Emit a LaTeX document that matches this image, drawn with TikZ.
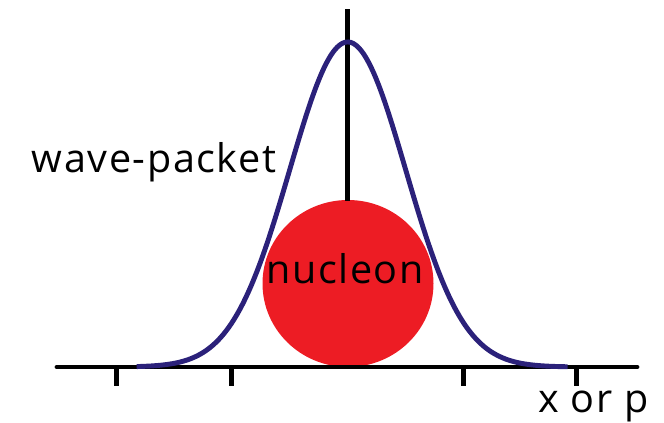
\documentclass[tikz,border=0pt]{standalone}
\usepackage{fontspec}
\setmainfont{Open Sans}[LetterSpace=4]
\usetikzlibrary{positioning,calc}
\definecolor{packet-blue}{RGB}{43,33,122}
\definecolor{nucleon-red}{RGB}{237,28,36}

\begin{document}
\begin{tikzpicture}[
 x=0.02cm, y=-0.02cm,
 axisline/.style={black, line width=2.8pt, line cap=round},
 tick/.style={black, line width=2.6pt},
 lbl/.style={inner sep=0, anchor=base west, font=\fontsize{22.5}{26}\selectfont},
 packet/.style={packet-blue, line width=2.8pt},
]
 \useasboundingbox (0,0) rectangle (664,423);
 %
 \coordinate (axL) at (57,367);
 \coordinate (axR) at (637,367);
 \coordinate (top) at (347.7,9);
 \coordinate (mid) at (347.7,201);
 %
 \fill[nucleon-red] (348,283.5) ellipse (85.5 and 83.5);
 \node[lbl, anchor=base] (nuc) at (345,283) {nucleon};
 %
 \draw[axisline] (axL) -- (axR);
 \draw[axisline, line cap=butt] (top) -- (mid);
 \foreach \t [count=\i] in {116.7,231.7,463.3,576.7}{
  \coordinate (t\i) at (\t,367);
  \draw[tick] (t\i) -- ++(0,18.5);
 }
 %
 \draw[packet] plot[domain=-211:220, samples=160, smooth]
  ({347.7+\x}, {367-325*exp(-0.5*(\x/58)^2)});
 %
 \node[lbl] (wp) at (31.5,172.5) {wave-packet};
 \node[lbl] (xp) at (538,412) {x or p};
\end{tikzpicture}
\end{document}
